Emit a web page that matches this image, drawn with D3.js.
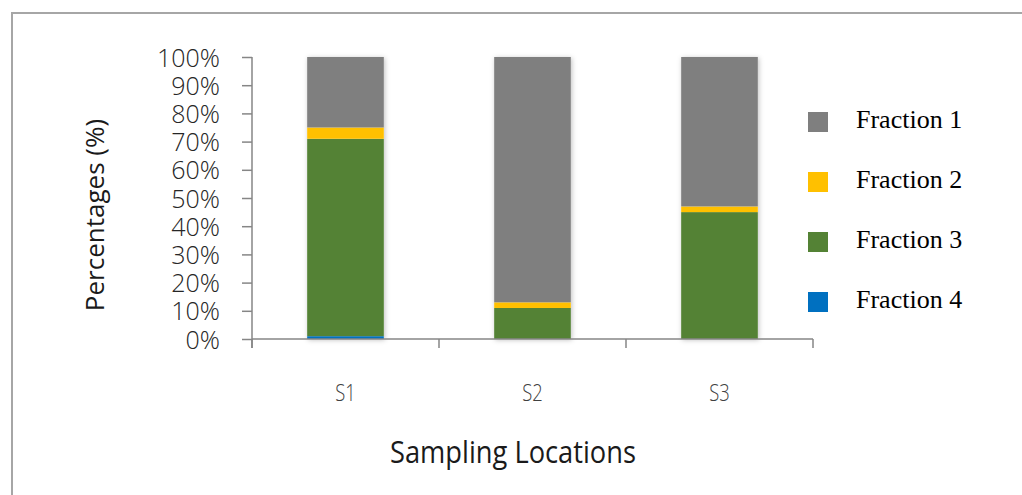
<!DOCTYPE html>
<html>
<head>
<meta charset="utf-8">
<script src="https://cdn.jsdelivr.net/npm/d3@7"></script>
<style>
  body { margin: 0; background: #fff; }
</style>
</head>
<body>
<div id="vis"></div>
<script>
// data (percent per sampling location)
let locations = ['S1', 'S2', 'S3']
let fraction1 = [25, 87, 53]
let fraction2 = [4, 2, 2]
let fraction3 = [70, 11, 45]
let fraction4 = [1, 0, 0]
let yTicks = [0, 10, 20, 30, 40, 50, 60, 70, 80, 90, 100]

let seriesNames = ['Fraction 1', 'Fraction 2', 'Fraction 3', 'Fraction 4']
let colors = {
  'Fraction 1': '#7f7f7f',
  'Fraction 2': '#ffc000',
  'Fraction 3': '#548235',
  'Fraction 4': '#0070c0'
}

let width = 1022,
  height = 495
let plot = { left: 252, right: 813, top: 57, bottom: 339 }

let svg = d3.select('#vis')
  .append('svg')
  .attr('width', width)
  .attr('height', height)
  .style('display', 'block')

// soft shadow like the excel bars
let defs = svg.append('defs')
defs.append('filter')
  .attr('id', 'shadow')
  .attr('x', '-20%').attr('y', '-5%')
  .attr('width', '140%').attr('height', '110%')
  .append('feDropShadow')
  .attr('dx', 1).attr('dy', 1)
  .attr('stdDeviation', 2.5)
  .attr('flood-color', '#000')
  .attr('flood-opacity', 0.25)

// outer chart border (runs off right and bottom edges)
svg.append('rect')
  .attr('x', 12)
  .attr('y', 13)
  .attr('width', width + 20)
  .attr('height', height + 20)
  .attr('fill', 'none')
  .attr('stroke', '#a6a6a6')
  .attr('stroke-width', 2)

// build rows for the stack
let rows = locations.map((loc, i) => ({
  loc: loc,
  'Fraction 4': fraction4[i],
  'Fraction 3': fraction3[i],
  'Fraction 2': fraction2[i],
  'Fraction 1': fraction1[i]
}))
let stack = d3.stack().keys(['Fraction 4', 'Fraction 3', 'Fraction 2', 'Fraction 1'])(rows)

let x = d3.scaleBand()
  .domain(locations)
  .range([plot.left, plot.right])
  .paddingInner(0.59)
  .paddingOuter(0.295)

let xCat = d3.scaleBand()
  .domain(locations)
  .range([plot.left, plot.right])

let y = d3.scaleLinear()
  .domain([0, 100])
  .range([plot.bottom, plot.top])

// bars
let barGroup = svg.append('g')
barGroup.selectAll('rect.shadow')
  .data(rows)
  .join('rect')
  .attr('class', 'shadow')
  .attr('x', d => x(d.loc))
  .attr('y', y(100))
  .attr('width', x.bandwidth())
  .attr('height', y(0) - y(100))
  .attr('fill', '#fff')
  .attr('filter', 'url(#shadow)')

barGroup.selectAll('g.layer')
  .data(stack)
  .join('g')
  .attr('class', 'layer')
  .attr('fill', d => colors[d.key])
  .selectAll('rect')
  .data(d => d)
  .join('rect')
  .attr('x', d => x(d.data.loc))
  .attr('y', d => y(d[1]))
  .attr('width', x.bandwidth())
  .attr('height', d => y(d[0]) - y(d[1]))

// y axis
let yAxis = svg.append('g')
  .attr('transform', 'translate(' + plot.left + ',0)')
  .call(d3.axisLeft(y).tickValues(yTicks).tickSize(10).tickPadding(22).tickFormat(d => d + '%'))
yAxis.select('.domain').attr('stroke', '#868686').attr('stroke-width', 1.5)
  .attr('d', 'M0,' + plot.top + 'V' + (plot.bottom + 9))
yAxis.selectAll('.tick line').attr('stroke', '#868686').attr('stroke-width', 1.5)
yAxis.selectAll('.tick text')
  .attr('fill', '#262626')
  .style('font-family', '"Open Sans", sans-serif')
  .style('font-weight', 300)
  .style('font-size', '25px')
  .attr('dy', '0.36em')

// x axis
let xAxisG = svg.append('g')
  .attr('transform', 'translate(0,' + plot.bottom + ')')
xAxisG.append('line')
  .attr('x1', plot.left).attr('x2', plot.right)
  .attr('stroke', '#868686').attr('stroke-width', 1.5)
let boundaries = locations.map(l => xCat(l)).concat([plot.right])
xAxisG.selectAll('line.tk')
  .data(boundaries)
  .join('line')
  .attr('class', 'tk')
  .attr('x1', d => d).attr('x2', d => d)
  .attr('y1', 0).attr('y2', 9)
  .attr('stroke', '#868686').attr('stroke-width', 1.5)
xAxisG.selectAll('text')
  .data(locations)
  .join('text')
  .attr('x', d => xCat(d) + xCat.bandwidth() / 2)
  .attr('transform', d => 'translate(' + (xCat(d) + xCat.bandwidth() / 2) + ',62) scale(0.8,1) translate(' + -(xCat(d) + xCat.bandwidth() / 2) + ',0)')
  .attr('text-anchor', 'middle')
  .attr('fill', '#404040')
  .style('font-family', '"Open Sans", sans-serif')
  .style('font-weight', 300)
  .style('font-size', '23px')
  .text(d => d)

// axis titles
svg.append('text')
  .attr('transform', 'translate(513,463) scale(0.88,1)')
  .attr('text-anchor', 'middle')
  .attr('fill', '#1a1a1a')
  .style('font-family', '"Open Sans", sans-serif')
  .style('font-size', '31px')
  .text('Sampling Locations')

svg.append('text')
  .attr('transform', 'translate(104,215) rotate(-90)')
  .attr('text-anchor', 'middle')
  .attr('fill', '#1a1a1a')
  .style('font-family', '"Open Sans", sans-serif')
  .style('font-size', '26px')
  .text('Percentages (%)')

// legend
let legend = svg.append('g')
  .selectAll('g')
  .data(seriesNames)
  .join('g')
  .attr('transform', (d, i) => 'translate(808,' + (112 + i * 60) + ')')
legend.append('rect')
  .attr('width', 20)
  .attr('height', 20)
  .attr('fill', d => colors[d])
legend.append('text')
  .attr('x', 48)
  .attr('y', 16)
  .attr('fill', '#000')
  .style('font-family', '"Liberation Serif", "Times New Roman", serif')
  .style('font-size', '26px')
  .text(d => d)
</script>
</body>
</html>
